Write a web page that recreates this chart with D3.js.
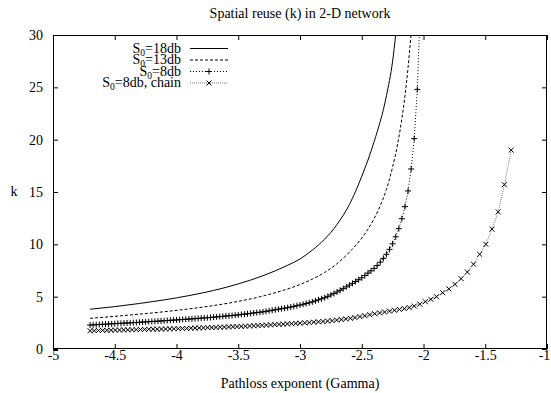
<!DOCTYPE html>
<html>
<head>
<meta charset="utf-8">
<script src="https://cdn.jsdelivr.net/npm/d3@7"></script>
<style>
  html, body { margin: 0; padding: 0; background: #fff; }
  svg { display: block; font-family: "Liberation Serif", "Times New Roman", serif; }
</style>
</head>
<body>
<svg id="chart" width="551" height="393"></svg>
<script>
// ---------- data ----------
const xTicks = [-5, -4.5, -4, -3.5, -3, -2.5, -2, -1.5, -1];
const yTicks = [0, 5, 10, 15, 20, 25, 30];

// S0 = 18 dB (solid line)
const s18Gamma = [-4.7, -4.5, -4.3, -4.1, -3.9, -3.7, -3.5, -3.3, -3.1, -3.0, -2.9, -2.8, -2.7, -2.6, -2.5, -2.4, -2.3, -2.25, -2.2];
const s18K     = [3.8, 4.05, 4.35, 4.69, 5.1, 5.59, 6.22, 7.0, 8.0, 8.6, 9.45, 10.5, 11.9, 13.8, 16.5, 19.8, 24.2, 27.5, 33];

// S0 = 13 dB (dashed line)
const s13Gamma = [-4.7, -4.5, -4.3, -4.1, -3.9, -3.7, -3.5, -3.3, -3.1, -3.0, -2.9, -2.8, -2.7, -2.6, -2.5, -2.45, -2.4, -2.35, -2.3, -2.25, -2.2, -2.15, -2.125, -2.1, -2.08];
const s13K     = [2.93, 3.12, 3.33, 3.56, 3.83, 4.15, 4.55, 5.06, 5.74, 6.16, 6.68, 7.32, 8.15, 9.25, 10.6, 11.45, 12.45, 13.7, 15.25, 17.4, 20.2, 24.2, 26.9, 30.2, 33];

// S0 = 8 dB (dotted line with + markers)
const s8Gamma = [-4.700, -4.675, -4.650, -4.625, -4.600, -4.575, -4.550, -4.525, -4.500, -4.475,
  -4.450, -4.425, -4.400, -4.375, -4.350, -4.325, -4.300, -4.275, -4.250, -4.225,
  -4.200, -4.175, -4.150, -4.125, -4.100, -4.075, -4.050, -4.025, -4.000, -3.975,
  -3.950, -3.925, -3.900, -3.875, -3.850, -3.825, -3.800, -3.775, -3.750, -3.725,
  -3.700, -3.675, -3.650, -3.625, -3.600, -3.575, -3.550, -3.525, -3.500, -3.475,
  -3.450, -3.425, -3.400, -3.375, -3.350, -3.325, -3.300, -3.275, -3.250, -3.225,
  -3.200, -3.175, -3.150, -3.125, -3.100, -3.075, -3.050, -3.025, -3.000, -2.975,
  -2.950, -2.925, -2.900, -2.875, -2.850, -2.825, -2.800, -2.775, -2.750, -2.725,
  -2.700, -2.675, -2.650, -2.625, -2.600, -2.575, -2.550, -2.525, -2.500, -2.475,
  -2.450, -2.425, -2.400, -2.375, -2.350, -2.325, -2.300, -2.275, -2.250, -2.225,
  -2.200, -2.175, -2.150, -2.125, -2.100, -2.075, -2.050, -2.025];
const s8K = [2.29, 2.31, 2.32, 2.34, 2.36, 2.37, 2.39, 2.40, 2.42, 2.44,
  2.45, 2.47, 2.49, 2.50, 2.52, 2.53, 2.55, 2.57, 2.59, 2.61,
  2.63, 2.64, 2.66, 2.68, 2.70, 2.72, 2.74, 2.76, 2.78, 2.80,
  2.82, 2.84, 2.86, 2.88, 2.90, 2.92, 2.95, 2.97, 2.99, 3.01,
  3.04, 3.07, 3.09, 3.12, 3.15, 3.18, 3.20, 3.23, 3.26, 3.30,
  3.33, 3.37, 3.40, 3.44, 3.48, 3.51, 3.55, 3.60, 3.65, 3.70,
  3.75, 3.80, 3.85, 3.90, 3.95, 4.01, 4.07, 4.14, 4.20, 4.27,
  4.35, 4.42, 4.50, 4.60, 4.70, 4.80, 4.90, 5.03, 5.17, 5.31,
  5.45, 5.61, 5.77, 5.94, 6.10, 6.27, 6.45, 6.62, 6.80, 7.02,
  7.25, 7.47, 7.70, 7.98, 8.30, 8.66, 9.05, 9.52, 10.05, 10.72,
  11.50, 12.45, 13.60, 15.10, 17.20, 20.10, 24.80, 33.0];

// S0 = 8 dB, chain (grey dotted line with x markers)
const chainGamma = [-4.700, -4.666, -4.632, -4.598, -4.564, -4.530, -4.496, -4.462, -4.428, -4.394,
  -4.360, -4.326, -4.292, -4.258, -4.224, -4.190, -4.156, -4.122, -4.088, -4.054,
  -4.020, -3.986, -3.952, -3.918, -3.884, -3.850, -3.816, -3.782, -3.748, -3.714,
  -3.680, -3.646, -3.612, -3.578, -3.544, -3.510, -3.476, -3.442, -3.408, -3.374,
  -3.340, -3.306, -3.272, -3.238, -3.204, -3.170, -3.136, -3.102, -3.068, -3.034,
  -3.000, -2.962, -2.925, -2.888, -2.851, -2.814, -2.777, -2.740, -2.703, -2.666,
  -2.629, -2.592, -2.555, -2.515, -2.475, -2.435, -2.395, -2.355, -2.315, -2.275,
  -2.235, -2.195, -2.155, -2.115, -2.075, -2.030, -1.985, -1.940, -1.895, -1.845,
  -1.795, -1.745, -1.695, -1.645, -1.595, -1.545, -1.495, -1.445, -1.395, -1.345, -1.290];
const chainK = [1.745, 1.755, 1.765, 1.775, 1.785, 1.795, 1.805, 1.815, 1.825, 1.835,
  1.845, 1.855, 1.86, 1.87, 1.88, 1.89, 1.895, 1.905, 1.915, 1.925,
  1.935, 1.945, 1.96, 1.97, 1.985, 2.00, 2.015, 2.025, 2.035, 2.05,
  2.065, 2.08, 2.095, 2.11, 2.13, 2.145, 2.16, 2.18, 2.20, 2.22,
  2.24, 2.26, 2.28, 2.305, 2.33, 2.35, 2.375, 2.40, 2.42, 2.445,
  2.47, 2.50, 2.53, 2.56, 2.60, 2.63, 2.67, 2.71, 2.76, 2.81,
  2.87, 2.93, 3.00, 3.09, 3.18, 3.28, 3.37, 3.45, 3.53, 3.62,
  3.70, 3.78, 3.86, 3.96, 4.10, 4.28, 4.52, 4.75, 5.00, 5.38,
  5.75, 6.18, 6.72, 7.35, 8.10, 9.05, 10.0, 11.45, 13.1, 15.7, 19.0];

const legendLabels = ["18db", "13db", "8db", "8db, chain"];
const titleText = "Spatial reuse (k) in 2-D network";
const xLabel = "Pathloss exponent (Gamma)";
const yLabel = "k";

// ---------- drawing ----------
const W = 551, H = 393;
const M = { left: 53, right: 4, top: 35, bottom: 44 };
const svg = d3.select("#chart");

const x = d3.scaleLinear().domain([-5, -1]).range([M.left, W - M.right]);
const y = d3.scaleLinear().domain([0, 30]).range([H - M.bottom, M.top]);

const FS = 14;

svg.append("defs").append("clipPath").attr("id", "clip")
  .append("rect").attr("x", M.left).attr("y", M.top)
  .attr("width", W - M.left - M.right).attr("height", H - M.top - M.bottom);

const fmt = d => String(d);

// bottom axis
const gx = svg.append("g").attr("transform", `translate(0,${H - M.bottom})`)
  .call(d3.axisBottom(x).tickValues(xTicks).tickFormat(fmt).tickSizeInner(-5).tickSizeOuter(0).tickPadding(1));
// top mirror
const gxt = svg.append("g").attr("transform", `translate(0,${M.top})`)
  .call(d3.axisTop(x).tickValues(xTicks).tickFormat("").tickSizeInner(-5).tickSizeOuter(0));
// left axis
const gy = svg.append("g").attr("transform", `translate(${M.left},0)`)
  .call(d3.axisLeft(y).tickValues(yTicks).tickFormat(fmt).tickSizeInner(-5).tickSizeOuter(0).tickPadding(10));
// right mirror
const gyr = svg.append("g").attr("transform", `translate(${W - M.right},0)`)
  .call(d3.axisRight(y).tickValues(yTicks).tickFormat("").tickSizeInner(-5).tickSizeOuter(0));

[gx, gxt, gy, gyr].forEach(g => {
  g.attr("font-family", '"Liberation Serif", serif');
  g.select(".domain").remove();
  g.selectAll("line").attr("stroke", "#000").attr("stroke-width", 1);
  g.selectAll("text").attr("fill", "#000").attr("font-size", FS)
    .attr("font-family", '"Liberation Serif", serif');
});
// keep the last x label inside the picture, as in the reference
gx.selectAll("text").filter(d => d === -1).attr("dx", -3);

// frame
svg.append("rect").attr("x", M.left + 0.5).attr("y", M.top + 0.5)
  .attr("width", W - M.left - M.right - 1).attr("height", H - M.top - M.bottom - 1)
  .attr("fill", "none").attr("stroke", "#000").attr("stroke-width", 1);

// title & labels
svg.append("text").attr("x", (M.left + W - M.right) / 2).attr("y", 18)
  .attr("text-anchor", "middle").attr("font-size", FS).text(titleText);
svg.append("text").attr("x", (M.left + W - M.right) / 2).attr("y", 388)
  .attr("text-anchor", "middle").attr("font-size", FS).text(xLabel);
svg.append("text").attr("x", 14).attr("y", 196)
  .attr("text-anchor", "middle").attr("font-size", FS).text(yLabel);

const plot = svg.append("g").attr("clip-path", "url(#clip)");

const series = [
  { g: s18Gamma, k: s18K, dash: null, color: "#000", marker: null, curve: d3.curveMonotoneX },
  { g: s13Gamma, k: s13K, dash: "3,2", color: "#000", marker: null, curve: d3.curveMonotoneX },
  { g: s8Gamma, k: s8K, dash: "1,2", color: "#000", marker: "plus", curve: d3.curveLinear },
  { g: chainGamma, k: chainK, dash: "1,1", color: "#777", marker: "cross", curve: d3.curveLinear }
];

const plusPath = "M-3,0H3M0,-3V3";
const crossPath = "M-2.5,-2.5L2.5,2.5M-2.5,2.5L2.5,-2.5";

series.forEach(s => {
  const pts = s.g.map((g, i) => [g, s.k[i]]);
  const line = d3.line().x(d => x(d[0])).y(d => y(d[1])).curve(s.curve);
  plot.append("path").attr("d", line(pts)).attr("fill", "none")
    .attr("stroke", s.color).attr("stroke-width", 1)
    .attr("stroke-dasharray", s.dash);
  if (s.marker) {
    plot.selectAll(null).data(pts).enter().append("path")
      .attr("transform", d => `translate(${x(d[0])},${y(d[1])})`)
      .attr("d", s.marker === "plus" ? plusPath : crossPath)
      .attr("fill", "none").attr("stroke", "#000").attr("stroke-width", 1);
  }
});

// legend
const legY = [48.5, 60, 71.5, 83];
const leg = svg.append("g");
series.forEach((s, i) => {
  const t = leg.append("text").attr("x", 181).attr("y", legY[i] + 4)
    .attr("text-anchor", "end").attr("font-size", FS);
  t.append("tspan").text("S");
  t.append("tspan").attr("font-size", 9.5).attr("dy", 3).text("0");
  t.append("tspan").attr("dy", -3).text("=" + legendLabels[i]);
  leg.append("line").attr("x1", 190).attr("x2", 228).attr("y1", legY[i]).attr("y2", legY[i])
    .attr("stroke", s.color).attr("stroke-width", 1).attr("stroke-dasharray", s.dash);
  if (s.marker) {
    leg.append("path").attr("transform", `translate(209,${legY[i]})`)
      .attr("d", s.marker === "plus" ? plusPath : crossPath)
      .attr("fill", "none").attr("stroke", "#000").attr("stroke-width", 1);
  }
});
</script>
</body>
</html>
